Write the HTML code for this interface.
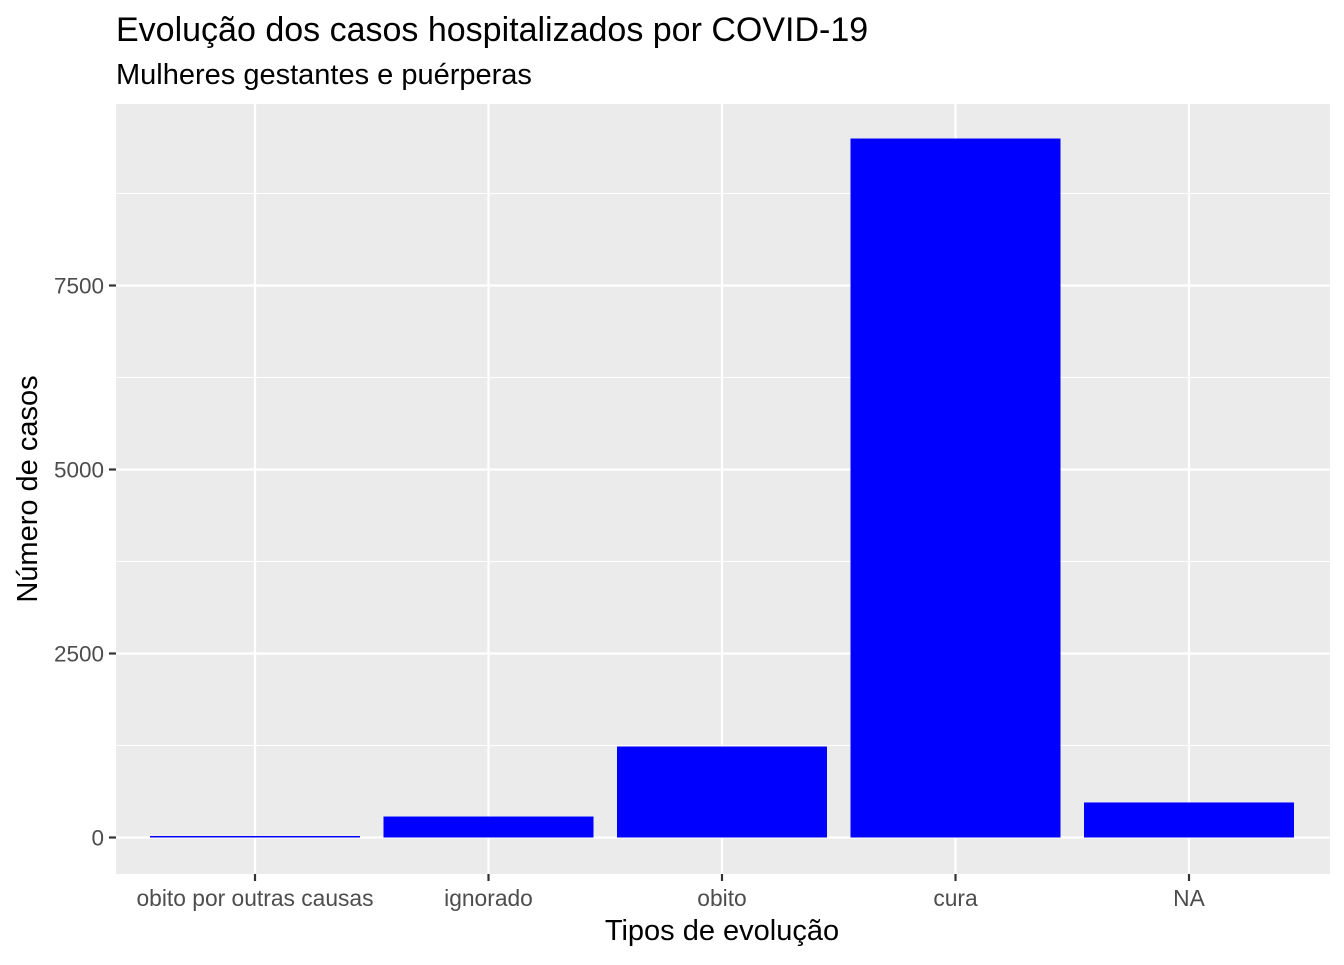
<!DOCTYPE html>
<html><head><meta charset="utf-8"><style>body{margin:0;background:#fff}svg text{font-family:"Liberation Sans",Arial,sans-serif}</style></head>
<body>
<svg id="c" width="1344" height="960" xmlns="http://www.w3.org/2000/svg">
<rect x="0" y="0" width="1344" height="960" fill="#fff"/>
<text x="116" y="41" font-size="34" fill="#000">Evolução dos casos hospitalizados por COVID-19</text>
<text x="116" y="84" font-size="29" fill="#000">Mulheres gestantes e puérperas</text>
<rect x="116" y="104" width="1214" height="770" fill="#ebebeb"/>
<g id="grid"></g><g id="bars"></g><g id="axes"></g>
<text x="722" y="940" font-size="29" text-anchor="middle" fill="#000">Tipos de evolução</text>
<text transform="translate(37,489) rotate(-90)" font-size="29" text-anchor="middle" fill="#000">Número de casos</text>
</svg>
<script>
const categories=["obito por outras causas","ignorado","obito","cura","NA"];
const values=[12,285,1236,9497,476];
const yTicks=[0,2500,5000,7500];
const yTickLabels=["0","2500","5000","7500"];
const NS="http://www.w3.org/2000/svg";
const y=v=>837.5-v*184/2500;
const x=i=>255+i*233.5;
const bw=210;
function mk(p,t,a){const e=document.createElementNS(NS,t);for(const k in a)e.setAttribute(k,a[k]);document.getElementById(p).appendChild(e);return e;}
for(let i=0;i<yTicks.length;i++){
 const v=yTicks[i];
 const g=mk('grid','line',{x1:116,x2:1330,y1:y(v),y2:y(v),stroke:'#fff','stroke-width':2.2});
 
 
 const m=mk('grid','line',{x1:116,x2:1330,y1:y(v+1250),y2:y(v+1250),stroke:'#fff','stroke-width':1.1});
 
 
 const t=mk('axes','line',{x1:109,x2:116,y1:y(v),y2:y(v),stroke:'#333','stroke-width':2.2});
 
 
 const l=mk('axes','text',{x:104,y:y(v)+8,'font-size':22.5,'text-anchor':'end',fill:'#4d4d4d'});
 l.textContent=yTickLabels[i];
 
 
}
categories.forEach((c,i)=>{
 const g=mk('grid','line',{x1:x(i),x2:x(i),y1:104,y2:874,stroke:'#fff','stroke-width':2.2});
 
 
 const h=Math.max(y(0)-y(values[i]),1.5);
 const b=mk('bars','rect',{x:x(i)-bw/2,y:y(0)-h,width:bw,height:h,fill:'#0000ff'});
 
 
 const t=mk('axes','line',{x1:x(i),x2:x(i),y1:874,y2:881,stroke:'#333','stroke-width':2.2});
 
 
 const l=mk('axes','text',{x:x(i),y:906,'font-size':22.8,'text-anchor':'middle',fill:'#4d4d4d'});
 l.textContent=c;
 
 
});
</script>
</body></html>
